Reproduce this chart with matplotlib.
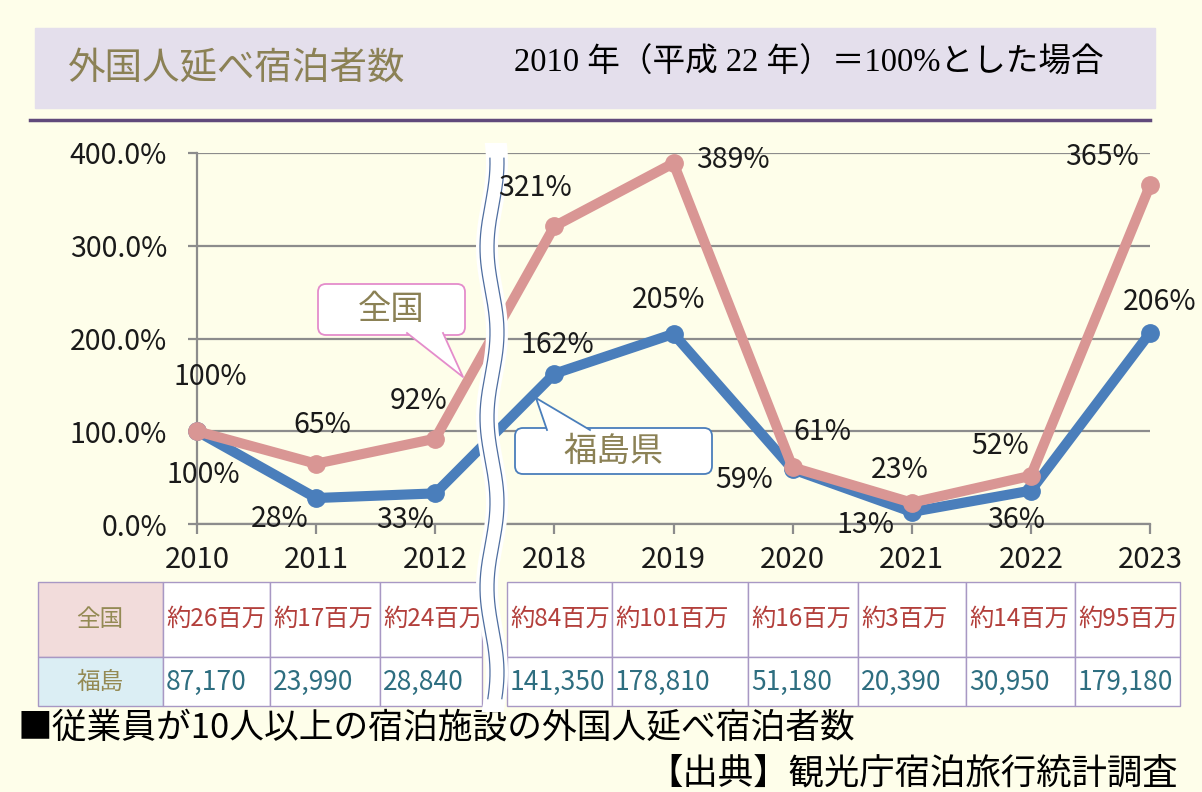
import numpy as np
import matplotlib.pyplot as plt
from matplotlib.patches import Rectangle, FancyBboxPatch, Polygon

plt.rcParams['font.family'] = ['Noto Sans CJK JP', 'DejaVu Sans']

years = ['2010', '2011', '2012', '2018', '2019', '2020', '2021', '2022', '2023']
zenkoku = [100, 65, 92, 321, 389, 61, 23, 52, 365]
fukushima = [100, 28, 33, 162, 205, 59, 13, 36, 206]
zenkoku_cnt = ['約26百万', '約17百万', '約24百万', '約84百万', '約101百万',
               '約16百万', '約3百万', '約14百万', '約95百万']
fukushima_cnt = ['87,170', '23,990', '28,840', '141,350', '178,810',
                 '51,180', '20,390', '30,950', '179,180']

# label offsets in pixels (dx, dy up)
z_off = [(13, 54), (6, 39), (-17, 38), (-19, 38), (59, 3), (30, 35), (-12, 33), (-31, 30), (-48, 28)]
f_off = [(6, -44), (-36, -21), (-30, -27), (3, 29), (-5, 34), (-48, -11), (-46, -13), (-15, -29), (10, 31)]

W, H = 1202, 792
fig = plt.figure(figsize=(W/100, H/100), dpi=100, facecolor='#FEFEEA')

bg = fig.add_axes([0, 0, 1, 1], zorder=0)
bg.set_xlim(0, W); bg.set_ylim(H, 0); bg.axis('off')
pix = bg.transData

# header
bg.add_patch(Rectangle((35, 28), 1120, 80, color='#E4DFEC'))
bg.text(68, 68, '外国人延べ宿泊者数', fontsize=27, color='#8B8155', va='center')
bg.text(514, 63, '2010 年（平成 22 年）＝100%とした場合', fontsize=23.5, va='center',
        family=['Liberation Serif', 'Noto Sans CJK JP'])
bg.plot([30, 1150], [120, 120], color='#604A7B', lw=2.5)

# table
lefts = [163, 270, 380, 507, 612, 748, 858, 966, 1075]
rights = [270, 380, 482, 612, 748, 858, 966, 1075, 1180]
rows = [(582, 657), (657, 706)]
bc = '#A898C4'
bg.add_patch(Rectangle((38, 582), 125, 75, facecolor='#F2DCDB', edgecolor=bc, lw=1))
bg.add_patch(Rectangle((38, 657), 125, 49, facecolor='#DBEEF4', edgecolor=bc, lw=1))
bg.text(100, 619, '全国', fontsize=17, color='#948A54', ha='center', va='center')
bg.text(100, 682, '福島', fontsize=17, color='#948A54', ha='center', va='center')
for i in range(len(years)):
    for (t, b) in rows:
        bg.add_patch(Rectangle((lefts[i], t), rights[i]-lefts[i], b-t,
                               facecolor='white', edgecolor=bc, lw=1))
    bg.text(lefts[i]+3, 619, zenkoku_cnt[i], fontsize=17.5, color='#B3403C', va='center')
    bg.text(lefts[i]+3, 682, fukushima_cnt[i], fontsize=19, color='#2E6E80', va='center')

bg.text(18, 728, '■従業員が10人以上の宿泊施設の外国人延べ宿泊者数', fontsize=25, va='center')
bg.text(1178, 773, '【出典】観光庁宿泊旅行統計調査', fontsize=25.5, va='center', ha='right')

# chart
ax = fig.add_axes([197/W, (H-524)/H, (1150-197)/W, (524-153)/H], zorder=1)
ax.patch.set_alpha(0)
x = np.arange(len(years))
ax.plot(x, fukushima, color='#4A7EBB', lw=7.3, marker='o', ms=12.5, clip_on=False, zorder=3)
ax.plot(x, zenkoku, color='#D99694', lw=7.3, marker='o', ms=12.5, clip_on=False, zorder=3.1)
ax.set_xlim(0, 8); ax.set_ylim(0, 400)
ax.set_yticks(range(0, 401, 100))
ax.set_yticklabels([f'{v:.1f}%' for v in range(0, 401, 100)])
ax.set_xticks(x); ax.set_xticklabels(years)
ax.grid(axis='y', color='#8C8C8C', lw=1.6)
ax.set_axisbelow(True)
for s in ['top', 'right']:
    ax.spines[s].set_visible(False)
for s in ['left', 'bottom']:
    ax.spines[s].set_color('#8C8C8C'); ax.spines[s].set_linewidth(1.6)
ax.tick_params(axis='y', length=6.5, width=1.6, color='#8C8C8C', pad=15, labelsize=20.5, labelcolor='#1a1a1a')
ax.tick_params(axis='x', length=7, width=1.6, color='#8C8C8C', pad=8, labelsize=21, labelcolor='#1a1a1a')

for i in range(len(years)):
    ax.annotate(f'{zenkoku[i]}%', (x[i], zenkoku[i]), xytext=z_off[i], textcoords='offset pixels',
                ha='center', va='center', fontsize=20.5, color='#1a1a1a', zorder=6, annotation_clip=False)
    ax.annotate(f'{fukushima[i]}%', (x[i], fukushima[i]), xytext=f_off[i], textcoords='offset pixels',
                ha='center', va='center', fontsize=20.5, color='#1a1a1a', zorder=6, annotation_clip=False)

# break mark
yy = np.linspace(143, 712, 300)
xc = 492 + 5*np.sin(2*np.pi*(yy-120)/170)
band = np.vstack([np.column_stack([xc-11, yy]), np.column_stack([xc+11, yy])[::-1]])
ax.add_patch(Polygon(band, closed=True, facecolor='white', edgecolor='none',
                     transform=pix, clip_on=False, zorder=4))
m = (yy > 158) & (yy < 700)
ax.plot(xc[m]-7, yy[m], color='#4F6EA0', lw=0.9, transform=pix, clip_on=False, zorder=4.5)
ax.plot(xc[m]+7, yy[m], color='#4F6EA0', lw=0.9, transform=pix, clip_on=False, zorder=4.5)

# callouts
def callout(x0, y0, w, h, base, tip, ec, text):
    ax.add_patch(FancyBboxPatch((x0, y0), w, h, boxstyle='round,pad=0,rounding_size=8',
                                facecolor='white', edgecolor=ec, lw=1.3, transform=pix,
                                clip_on=False, zorder=5))
    (bx1, by1), (bx2, by2) = base
    ax.add_patch(Polygon([(bx1, by1), tip, (bx2, by2)], closed=True, facecolor='white',
                         edgecolor='none', transform=pix, clip_on=False, zorder=5.1))
    ax.plot([bx1, tip[0], bx2], [by1, tip[1], by2], color=ec, lw=1.3,
            transform=pix, clip_on=False, zorder=5.2)
    ax.text(x0+w/2, y0+h/2, text, fontsize=24, color='#8B8155', ha='center', va='center',
            transform=pix, zorder=5.3)

callout(318, 284, 147, 51, [(407, 333), (443, 333)], (463, 377), '#E48CCB', '全国')
callout(515, 428, 197, 46, [(547, 430), (590, 430)], (536, 398), '#4A7EBB', '福島県')

fig.savefig('out.png', dpi=100, facecolor=fig.get_facecolor())
